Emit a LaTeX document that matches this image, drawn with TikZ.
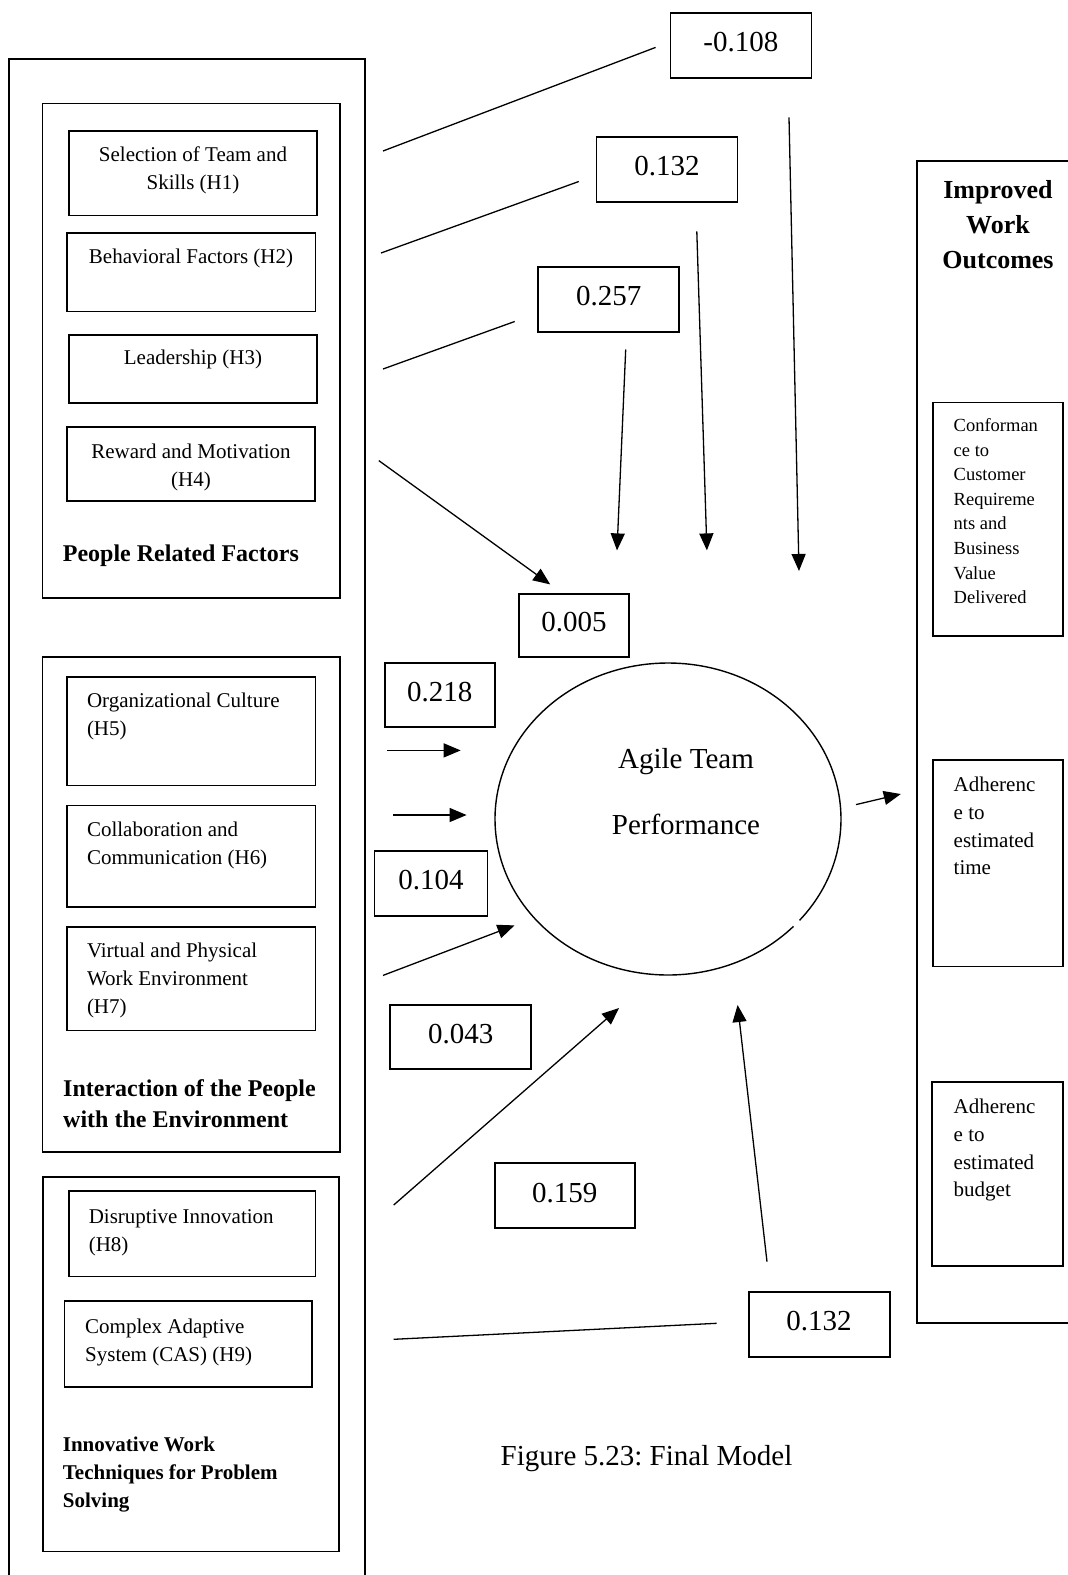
\documentclass[tikz,border=0pt]{standalone}
\usepackage{fontspec}
\setmainfont{Liberation Serif}
\usepackage{tikz}
\usetikzlibrary{
  fit,        % boxes spanned by two corners
  arrows.meta % filled triangle tips
}
\frenchspacing

\newcommand{\boxtxt}{\fontsize{21}{28}\selectfont}
\newcommand{\coeftxt}{\fontsize{29}{34}\selectfont}
\newcommand{\grptxt}{\fontsize{24}{31}\selectfont\bfseries}

\begin{document}
\begin{tikzpicture}[x=1pt, y=-1pt,
    grp/.style={draw, line width=1.5pt, inner sep=0pt},
    hyp/.style={draw, line width=1.4pt, inner sep=0pt},
    coef/.style={draw, line width=1.8pt, inner sep=0pt, font=\coeftxt,
      text height=20pt, text depth=7pt, minimum height=65pt},
    txt/.style={inner sep=0pt, font=\boxtxt},
    edge/.style={line width=1.3pt},
    arr/.style={edge, -{Triangle[length=17pt, width=14pt]}}]
    \useasboundingbox[fill=white] (0,0) rectangle (1068,1575);

    % Outer frames (cut by the page edges)
    \draw[line width=1.8pt] (8.6,1575) -- (8.6,59.3) -- (365,59.3) -- (365,1575);
    \draw[line width=1.8pt] (1068,161) -- (917,161) -- (917,1323) -- (1068,1323);

    % People related factors
    \node[grp, fit={(42.7,103.6) (340,598)}] (peop) {};
    \node[hyp, fit={(69,131) (317,215.5)}] (h1) {};
    \node[hyp, fit={(66.8,233) (315.4,311.6)}] (h2) {};
    \node[hyp, fit={(69,335) (317,403)}] (h3) {};
    \node[hyp, fit={(67,427) (315,501)}] (h4) {};
    \node[txt, anchor=north, align=center] (h1t) at (193,147) {Selection of Team and\\Skills (H1)};
    \node[txt, anchor=north] (h2t) at (191,249) {Behavioral Factors (H2)};
    \node[txt, anchor=north] (h3t) at (193,350) {Leadership (H3)};
    \node[txt, anchor=north, align=center] (h4t) at (191,443.6) {Reward and Motivation\\(H4)};
    \node[inner sep=0pt, font=\grptxt, anchor=north west] (peopt) at (62.7,545) {People Related Factors};

    % Interaction with the environment
    \node[grp, fit={(42.7,656.8) (340,1152)}] (envi) {};
    \node[hyp, fit={(66.8,677) (315.4,785.7)}] (h5) {};
    \node[hyp, fit={(66.8,805.4) (315.4,906.8)}] (h6) {};
    \node[hyp, fit={(66.8,927) (315.4,1030.7)}] (h7) {};
    \node[txt, anchor=north west, align=left] (h5t) at (86.8,693.2) {Organizational Culture\\(H5)};
    \node[txt, anchor=north west, align=left] (h6t) at (86.8,821.8) {Collaboration and\\Communication (H6)};
    \node[txt, anchor=north west, align=left] (h7t) at (86.8,943) {Virtual and Physical\\Work Environment\\(H7)};
    \node[inner sep=0pt, font=\grptxt, anchor=north west, align=left] (envit) at (63,1079) {Interaction of the People\\with the Environment};

    % Innovative work techniques
    \node[grp, fit={(43,1177) (339,1551.7)}] (inno) {};
    \node[hyp, fit={(68.8,1191) (315.4,1276.7)}] (h8) {};
    \node[hyp, fit={(64.7,1301) (312,1387)}] (h9) {};
    \node[txt, anchor=north west, align=left] (h8t) at (88.6,1209.3) {Disruptive Innovation\\(H8)};
    \node[txt, anchor=north west, align=left] (h9t) at (85,1318.3) {Complex Adaptive\\System (CAS) (H9)};
    \node[inner sep=0pt, font=\fontsize{21}{28}\selectfont\bfseries, anchor=north west, align=left] (innot) at (62.7,1436.7) {Innovative Work\\Techniques for Problem\\Solving};

    % Improved work outcomes
    \node[inner sep=0pt, font=\fontsize{26}{35}\selectfont\bfseries, anchor=north, align=center] (outt) at (998,180) {Improved\\Work\\Outcomes};
    \node[hyp, fit={(933,402.5) (1063,636)}] (o1) {};
    \node[hyp, fit={(933,760) (1063,966.4)}] (o2) {};
    \node[hyp, fit={(932,1082) (1063,1266)}] (o3) {};
    \node[inner sep=0pt, font=\fontsize{18.5}{24.6}\selectfont, anchor=north west, align=left] (o1t) at (953.5,418.3)
      {Conforman\\ce to\\Customer\\Requireme\\nts and\\Business\\Value\\Delivered};
    \node[inner sep=0pt, font=\fontsize{21}{27.7}\selectfont, anchor=north west, align=left] (o2t) at (953.5,777)
      {Adherenc\\e to\\estimated\\time};
    \node[inner sep=0pt, font=\fontsize{21}{27.7}\selectfont, anchor=north west, align=left] (o3t) at (953.5,1099)
      {Adherenc\\e to\\estimated\\budget};

    % Agile team performance (outline has a small break at lower right)
    \coordinate (atp) at (668,819);
    \draw[line width=1.4pt] (atp) ++(43.5:173 and 156) arc[start angle=43.5, end angle=400.5, x radius=173, y radius=156];
    \node[inner sep=0pt, font=\fontsize{29}{66}\selectfont, anchor=north, align=center] (atpt) at (686,748.6) {Agile Team\\Performance};

    % Path coefficients
    \node[coef, minimum width=141] (c1) at (740.9,45.3) {-0.108};
    \node[coef, minimum width=141] (c2) at (667,169.3) {0.132};
    \node[coef, minimum width=141] (c3) at (608.7,299.2) {0.257};
    \node[coef, minimum width=110, minimum height=63] (c4) at (574.1,625.4) {0.005};
    \node[coef, minimum width=110, minimum height=64] (c5) at (439.8,695) {0.218};
    \node[coef, minimum width=113] (c6) at (431,883.4) {0.104};
    \node[coef, minimum width=141, minimum height=64.4] (c7) at (460.7,1036.8) {0.043};
    \node[coef, minimum width=140.4] (c8) at (564.8,1195.8) {0.159};
    \node[coef, minimum width=141] (c9) at (819.1,1324.2) {0.132};

    % Line ends
    \coordinate (l1a) at (383,151);     \coordinate (l1b) at (655.6,47.4);
    \coordinate (l2a) at (381,253);     \coordinate (l2b) at (578.8,181.5);
    \coordinate (l3a) at (383,369);     \coordinate (l3b) at (514.7,321.5);
    \coordinate (l4a) at (393.7,1339.3); \coordinate (l4b) at (716.6,1323.3);
    \coordinate (a1a) at (789,117.4);   \coordinate (a1b) at (799,571);
    \coordinate (a2a) at (696.8,231.3); \coordinate (a2b) at (706.9,550.4);
    \coordinate (a3a) at (625.7,349.5); \coordinate (a3b) at (617,550.4);
    \coordinate (a4a) at (378.8,460.6); \coordinate (a4b) at (550.2,584.4);
    \coordinate (a5a) at (387,750.4);   \coordinate (a5b) at (460.7,750.4);
    \coordinate (a6a) at (393,815);     \coordinate (a6b) at (466.6,815);
    \coordinate (a7a) at (383,975.4);   \coordinate (a7b) at (514.5,925.4);
    \coordinate (a8a) at (393.7,1205);  \coordinate (a8b) at (619,1008);
    \coordinate (a9a) at (767,1261.7);  \coordinate (a9b) at (737.6,1005);
    \coordinate (a0a) at (856,804.6);   \coordinate (a0b) at (900.8,794);

    % Plain lines towards the coefficients
    \draw[edge] (l1a) -- (l1b);
    \draw[edge] (l2a) -- (l2b);
    \draw[edge] (l3a) -- (l3b);
    \draw[edge] (l4a) -- (l4b);

    % Arrows into and out of the circle
    \draw[arr] (a1a) -- (a1b);
    \draw[arr] (a2a) -- (a2b);
    \draw[arr] (a3a) -- (a3b);
    \draw[arr] (a4a) -- (a4b);
    \draw[arr] (a5a) -- (a5b);
    \draw[arr] (a6a) -- (a6b);
    \draw[arr] (a7a) -- (a7b);
    \draw[arr] (a8a) -- (a8b);
    \draw[arr] (a9a) -- (a9b);
    \draw[arr] (a0a) -- (a0b);

    % Caption
    \node[inner sep=0pt, font=\fontsize{29}{34}\selectfont, anchor=north] (capt) at (646.5,1445) {Figure 5.23: Final Model};
\end{tikzpicture}
\end{document}
